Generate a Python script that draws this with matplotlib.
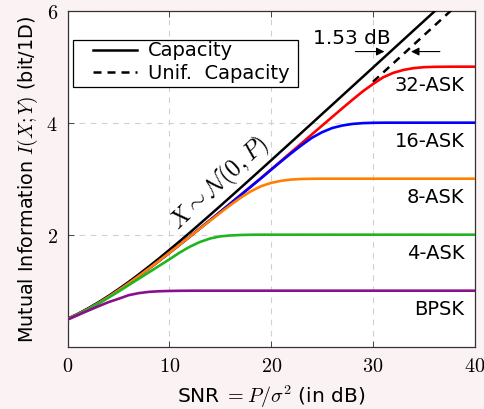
import matplotlib
matplotlib.use("Agg")
from matplotlib import pyplot as plt
from matplotlib.lines import Line2D
from matplotlib.patches import Rectangle

plt.rcParams['mathtext.fontset'] = 'cm'
plt.rcParams['font.family'] = ['DejaVu Sans']

# SNR grid (dB) and mutual information values
snr_db = list(range(0, 41))

capacity = [0.500, 0.588, 0.685, 0.791, 0.906, 1.029, 1.158, 1.294, 1.435, 1.580,
            1.730, 1.882, 2.037, 2.195, 2.354, 2.514, 2.676, 2.838, 3.001, 3.165,
            3.329, 3.494, 3.659, 3.824, 3.989, 4.155, 4.320, 4.486, 4.652, 4.818,
            4.984, 5.150, 5.316, 5.482, 5.648, 5.814, 5.980, 6.146, 6.312, 6.478, 6.644]

unif_snr_db = [30, 31, 32, 33, 34, 35, 36, 37, 38]
unif_capacity = [4.729, 4.895, 5.061, 5.227, 5.393, 5.559, 5.725, 5.891, 6.057]

ask32 = [0.490, 0.576, 0.671, 0.775, 0.887, 1.007, 1.132, 1.263, 1.398, 1.536,
         1.678, 1.821, 1.966, 2.113, 2.260, 2.408, 2.558, 2.708, 2.859, 3.012,
         3.166, 3.322, 3.479, 3.635, 3.792, 3.948, 4.103, 4.259, 4.411, 4.560,
         4.690, 4.810, 4.890, 4.942, 4.974, 4.991, 4.997, 4.999, 5.0, 5.0, 5.0]

ask16 = [0.490, 0.576, 0.671, 0.775, 0.887, 1.007, 1.132, 1.263, 1.398, 1.536,
         1.678, 1.821, 1.966, 2.113, 2.260, 2.408, 2.558, 2.708, 2.859, 3.007,
         3.161, 3.312, 3.460, 3.600, 3.730, 3.830, 3.905, 3.950, 3.978, 3.992,
         3.998, 4.0, 4.0, 4.0, 4.0, 4.0, 4.0, 4.0, 4.0, 4.0, 4.0]

ask8 = [0.490, 0.576, 0.671, 0.775, 0.887, 1.007, 1.132, 1.263, 1.398, 1.536,
        1.678, 1.821, 1.966, 2.108, 2.251, 2.391, 2.530, 2.660, 2.775, 2.865,
        2.925, 2.963, 2.985, 2.995, 2.998, 3.0, 3.0, 3.0, 3.0, 3.0,
        3.0, 3.0, 3.0, 3.0, 3.0, 3.0, 3.0, 3.0, 3.0, 3.0, 3.0]

ask4 = [0.489, 0.574, 0.667, 0.768, 0.874, 0.985, 1.100, 1.215, 1.330, 1.445,
        1.560, 1.680, 1.785, 1.870, 1.932, 1.970, 1.986, 1.995, 1.999, 2.0,
        2.0, 2.0, 2.0, 2.0, 2.0, 2.0, 2.0, 2.0, 2.0, 2.0,
        2.0, 2.0, 2.0, 2.0, 2.0, 2.0, 2.0, 2.0, 2.0, 2.0, 2.0]

bpsk = [0.486, 0.564, 0.643, 0.720, 0.795, 0.855, 0.920, 0.957, 0.979, 0.990,
        0.995, 0.998, 0.9995, 1.0, 1.0, 1.0, 1.0, 1.0, 1.0, 1.0,
        1.0, 1.0, 1.0, 1.0, 1.0, 1.0, 1.0, 1.0, 1.0, 1.0,
        1.0, 1.0, 1.0, 1.0, 1.0, 1.0, 1.0, 1.0, 1.0, 1.0, 1.0]

ask_curves = [ask32, ask16, ask8, ask4, bpsk]
ask_names = ['32-ASK', '16-ASK', '8-ASK', '4-ASK', 'BPSK']
ask_levels = [5, 4, 3, 2, 1]
ask_colors = ['#ff0000', '#0000ff', '#ff8000', '#1fb51f', '#8a0f8a']

legend_names = ['Capacity', 'Unif.  Capacity']

fig = plt.figure(figsize=(4.85, 4.10), dpi=100)
fig.patch.set_facecolor('#fbf2f3')
ax = fig.add_axes([0.1396, 0.152, 0.8392, 0.8195])

dash = (0, (3.2, 2.4))
ax.plot(snr_db, capacity, color='black', lw=1.8, zorder=3)
ax.plot(unif_snr_db, unif_capacity, color='black', lw=1.8, ls=dash, zorder=3)

for vals, col in zip(ask_curves, ask_colors):
    ax.plot(snr_db, vals, color=col, lw=1.9, zorder=4)

for name, lev in zip(ask_names, ask_levels):
    ax.text(39.0, lev - 0.31, name, ha='right', va='center', fontsize=14)

ax.text(14.95, 2.93, r'$X\sim\mathcal{N}(0,P)$', rotation=43, rotation_mode='anchor',
        ha='center', va='center', fontsize=17.5)

# 1.53 dB gap annotation
ax.text(27.95, 5.53, '1.53 dB', ha='center', va='center', fontsize=14.5)
ax.annotate('', xy=(31.4, 5.27), xytext=(28.0, 5.27),
            arrowprops=dict(arrowstyle='-|>', color='black', lw=0.8,
                            mutation_scale=12))
ax.annotate('', xy=(33.47, 5.27), xytext=(36.85, 5.27),
            arrowprops=dict(arrowstyle='-|>', color='black', lw=0.8,
                            mutation_scale=12))

ax.set_xlim(0, 40)
ax.set_ylim(0, 6)
ax.set_xticks([0, 10, 20, 30, 40], labels=[f'${t}$' for t in [0, 10, 20, 30, 40]])
ax.set_yticks([2, 4, 6], labels=[f'${t}$' for t in [2, 4, 6]])
ax.tick_params(direction='in', top=True, right=True, labelsize=14.5, length=4,
               width=0.7, color='#444444', pad=7)
ax.grid(True, ls=(0, (5, 5)), color='#d0d0d0', lw=0.8)
for sp in ax.spines.values():
    sp.set_color('#333333')
    sp.set_linewidth(0.9)

ax.set_xlabel(r'SNR $= P/\sigma^2$ (in dB)', fontsize=14.5, labelpad=5)
ax.set_ylabel(r'Mutual Information $I(X;Y)$ (bit/1D)', fontsize=13.8, labelpad=5)

# legend box drawn in axes fraction
ax.add_patch(Rectangle((0.013, 0.773), 0.553, 0.140, transform=ax.transAxes,
                       facecolor='white', edgecolor='black', lw=0.9, zorder=6))
for yy, style, name in zip([0.884, 0.817], ['-', dash], legend_names):
    ax.add_line(Line2D([0.062, 0.170], [yy, yy], transform=ax.transAxes,
                       color='black', lw=1.8, ls=style, zorder=7))
    ax.text(0.197, yy, name, transform=ax.transAxes, ha='left', va='center',
            fontsize=14, zorder=7)

fig.savefig('out.png', dpi=100, facecolor=fig.get_facecolor())
